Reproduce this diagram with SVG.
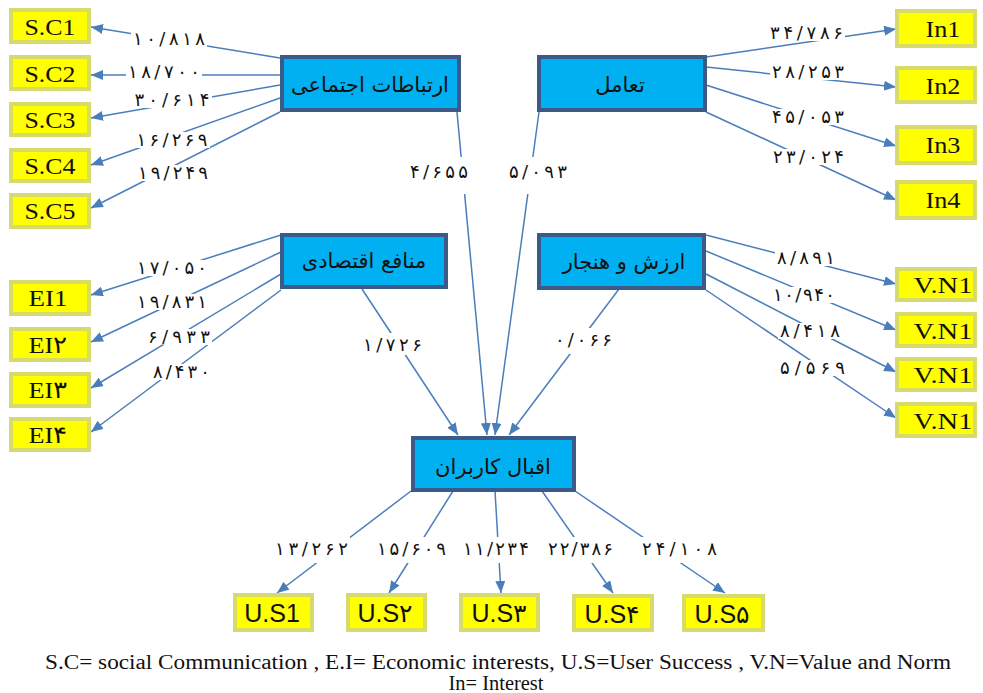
<svg xmlns="http://www.w3.org/2000/svg" width="983" height="693" viewBox="0 0 983 693">
<defs>
<marker id="ah" markerUnits="userSpaceOnUse" markerWidth="12" markerHeight="10" refX="12" refY="5" orient="auto">
<path d="M0,0 L12,5 L0,10 Z" fill="#4A7EBB"/>
</marker>
<style>
.ln{stroke:#4A7EBB;stroke-width:1.5;fill:none;marker-end:url(#ah)}
.bg{fill:#ffffff}
.lb{font-family:"DejaVu Sans",sans-serif;font-size:18px;fill:#111;text-anchor:middle}
.bl{fill:#00B0F0;stroke:#3B5A8A;stroke-width:4}
.bt{font-family:"DejaVu Sans",sans-serif;font-size:21px;fill:#111;text-anchor:middle}
.yl{fill:#FFFF00;stroke:#D6DB6B;stroke-width:4}
.yt{font-size:24px;fill:#111;text-anchor:middle}
.ut{font-family:"Liberation Sans","DejaVu Sans",sans-serif;font-size:25px;fill:#111;text-anchor:middle}
.lg{font-size:20px;fill:#111;text-anchor:middle}
</style>
</defs>
<rect width="983" height="693" fill="#ffffff"/>
<g id="connectors">
<line class="ln" x1="280" y1="58" x2="91" y2="27"/>
<line class="ln" x1="280" y1="75" x2="91" y2="75"/>
<line class="ln" x1="280" y1="85" x2="91" y2="118"/>
<line class="ln" x1="280" y1="98" x2="91" y2="165"/>
<line class="ln" x1="280" y1="112" x2="91" y2="208"/>
<line class="ln" x1="281" y1="235" x2="91" y2="295"/>
<line class="ln" x1="281" y1="252" x2="91" y2="342"/>
<line class="ln" x1="281" y1="274" x2="91" y2="388"/>
<line class="ln" x1="281" y1="290" x2="91" y2="432"/>
<line class="ln" x1="706" y1="57" x2="896" y2="29"/>
<line class="ln" x1="706" y1="67" x2="896" y2="87"/>
<line class="ln" x1="706" y1="85" x2="896" y2="146"/>
<line class="ln" x1="706" y1="112" x2="896" y2="200"/>
<line class="ln" x1="706" y1="235" x2="896" y2="284"/>
<line class="ln" x1="706" y1="251" x2="896" y2="330"/>
<line class="ln" x1="706" y1="274" x2="896" y2="372"/>
<line class="ln" x1="706" y1="290" x2="896" y2="418"/>
<line class="ln" x1="457" y1="112" x2="487" y2="435"/>
<line class="ln" x1="539" y1="112" x2="495" y2="435"/>
<line class="ln" x1="362" y1="289" x2="458" y2="435"/>
<line class="ln" x1="619" y1="289" x2="509" y2="435"/>
<line class="ln" x1="411" y1="491" x2="277" y2="593"/>
<line class="ln" x1="453" y1="491" x2="389" y2="593"/>
<line class="ln" x1="495" y1="491" x2="501" y2="593"/>
<line class="ln" x1="542" y1="491" x2="613" y2="593"/>
<line class="ln" x1="575" y1="491" x2="725" y2="593"/>
<!-- label backgrounds -->
<rect class="bg" x="131" y="31" width="76" height="16"/>
<rect class="bg" x="126" y="64" width="76" height="16"/>
<rect class="bg" x="133" y="92" width="79" height="16"/>
<rect class="bg" x="135" y="132" width="75" height="16"/>
<rect class="bg" x="136" y="165" width="74" height="16"/>
<rect class="bg" x="135" y="260" width="74" height="16"/>
<rect class="bg" x="135" y="294" width="74" height="16"/>
<rect class="bg" x="146" y="329" width="66" height="16"/>
<rect class="bg" x="151" y="364" width="61" height="16"/>
<rect class="bg" x="768" y="25" width="77" height="16"/>
<rect class="bg" x="770" y="64" width="76" height="16"/>
<rect class="bg" x="770" y="109" width="76" height="16"/>
<rect class="bg" x="771" y="149" width="75" height="16"/>
<rect class="bg" x="775" y="250" width="62" height="16"/>
<rect class="bg" x="771" y="287" width="66" height="16"/>
<rect class="bg" x="778" y="323" width="64" height="16"/>
<rect class="bg" x="778" y="360" width="69" height="16"/>
<rect class="bg" x="408" y="157" width="62" height="37"/>
<rect class="bg" x="507" y="157" width="62" height="37"/>
<rect class="bg" x="361" y="333" width="63" height="22"/>
<rect class="bg" x="553" y="328" width="61" height="26"/>
<rect class="bg" x="273" y="537" width="77" height="26"/>
<rect class="bg" x="375" y="537" width="73" height="26"/>
<rect class="bg" x="461" y="537" width="70" height="26"/>
<rect class="bg" x="546" y="537" width="69" height="26"/>
<rect class="bg" x="640" y="537" width="79" height="26"/>
<!-- labels -->
<text class="lb" x="169" y="45" textLength="72" lengthAdjust="spacing">۱۰/۸۱۸</text>
<text class="lb" x="164" y="78" textLength="72" lengthAdjust="spacing">۱۸/۷۰۰</text>
<text class="lb" x="172" y="106" textLength="75" lengthAdjust="spacing">۳۰/۶۱۴</text>
<text class="lb" x="172" y="146" textLength="71" lengthAdjust="spacing">۱۶/۲۶۹</text>
<text class="lb" x="173" y="179" textLength="70" lengthAdjust="spacing">۱۹/۲۴۹</text>
<text class="lb" x="172" y="274" textLength="70" lengthAdjust="spacing">۱۷/۰۵۰</text>
<text class="lb" x="172" y="308" textLength="70" lengthAdjust="spacing">۱۹/۸۳۱</text>
<text class="lb" x="179" y="343" textLength="62" lengthAdjust="spacing">۶/۹۳۳</text>
<text class="lb" x="181.5" y="378" textLength="57" lengthAdjust="spacing">۸/۴۳۰</text>
<text class="lb" x="806.5" y="39" textLength="73" lengthAdjust="spacing">۳۴/۷۸۶</text>
<text class="lb" x="808" y="78" textLength="72" lengthAdjust="spacing">۲۸/۲۵۳</text>
<text class="lb" x="808" y="123" textLength="72" lengthAdjust="spacing">۴۵/۰۵۳</text>
<text class="lb" x="808.5" y="163" textLength="71" lengthAdjust="spacing">۲۳/۰۲۴</text>
<text class="lb" x="806" y="264" textLength="58" lengthAdjust="spacing">۸/۸۹۱</text>
<text class="lb" x="804" y="301" textLength="62" lengthAdjust="spacing">۱۰/۹۴۰</text>
<text class="lb" x="810" y="337" textLength="60" lengthAdjust="spacing">۸/۴۱۸</text>
<text class="lb" x="812.5" y="374" textLength="65" lengthAdjust="spacing">۵/۵۶۹</text>
<text class="lb" x="439" y="178" textLength="58" lengthAdjust="spacing">۴/۶۵۵</text>
<text class="lb" x="538" y="178" textLength="58" lengthAdjust="spacing">۵/۰۹۳</text>
<text class="lb" x="392.5" y="351" textLength="59" lengthAdjust="spacing">۱/۷۲۶</text>
<text class="lb" x="583.5" y="346" textLength="57" lengthAdjust="spacing">۰/۰۶۶</text>
<text class="lb" x="311.5" y="555" textLength="73" lengthAdjust="spacing">۱۳/۲۶۲</text>
<text class="lb" x="411.5" y="555" textLength="69" lengthAdjust="spacing">۱۵/۶۰۹</text>
<text class="lb" x="496" y="555" textLength="66" lengthAdjust="spacing">۱۱/۲۳۴</text>
<text class="lb" x="580.5" y="555" textLength="65" lengthAdjust="spacing">۲۲/۳۸۶</text>
<text class="lb" x="679.5" y="555" textLength="75" lengthAdjust="spacing">۲۴/۱۰۸</text>
</g>
<g id="social"><rect class="bl" x="282" y="57" width="177" height="53"/><text class="bt" x="370" y="92">ارتباطات اجتماعی</text></g>
<g id="interaction"><rect class="bl" x="539" y="57" width="166" height="53"/><text class="bt" x="620" y="92">تعامل</text></g>
<g id="economic"><rect class="bl" x="282" y="235" width="164" height="52"/><text class="bt" x="364" y="268">منافع اقتصادی</text></g>
<g id="value"><rect class="bl" x="539" y="235" width="165" height="53"/><text class="bt" x="624" y="269">ارزش و هنجار</text></g>
<g id="users"><rect class="bl" x="413" y="438" width="161" height="52"/><text class="bt" x="493" y="474">اقبال کاربران</text></g>
<g font-family="'Liberation Serif', serif">
<g id="sc1"><rect class="yl" x="11" y="10" width="78" height="32"/><text class="yt" x="50" y="35" textLength="51" lengthAdjust="spacingAndGlyphs">S.C1</text></g>
<g id="sc2"><rect class="yl" x="11" y="57" width="78" height="32"/><text class="yt" x="50" y="82" textLength="51" lengthAdjust="spacingAndGlyphs">S.C2</text></g>
<g id="sc3"><rect class="yl" x="11" y="104" width="78" height="31"/><text class="yt" x="50" y="128" textLength="51" lengthAdjust="spacingAndGlyphs">S.C3</text></g>
<g id="sc4"><rect class="yl" x="11" y="150" width="78" height="31"/><text class="yt" x="50" y="174" textLength="51" lengthAdjust="spacingAndGlyphs">S.C4</text></g>
<g id="sc5"><rect class="yl" x="11" y="195" width="78" height="32"/><text class="yt" x="50" y="219" textLength="51" lengthAdjust="spacingAndGlyphs">S.C5</text></g>
<g id="ei1"><rect class="yl" x="11" y="282" width="78" height="32"/><text class="yt" x="48" y="306" textLength="39" lengthAdjust="spacingAndGlyphs">EI1</text></g>
<g id="ei2"><rect class="yl" x="11" y="329" width="78" height="31"/><text class="yt" x="48" y="353" textLength="39" lengthAdjust="spacingAndGlyphs">EI۲</text></g>
<g id="ei3"><rect class="yl" x="11" y="374" width="78" height="32"/><text class="yt" x="48" y="398" textLength="39" lengthAdjust="spacingAndGlyphs">EI۳</text></g>
<g id="ei4"><rect class="yl" x="11" y="419" width="78" height="31"/><text class="yt" x="48" y="443" textLength="39" lengthAdjust="spacingAndGlyphs">EI۴</text></g>
<g id="in1"><rect class="yl" x="897" y="11" width="78" height="35"/><text class="yt" x="943" y="37" textLength="35" lengthAdjust="spacingAndGlyphs">In1</text></g>
<g id="in2"><rect class="yl" x="897" y="68" width="78" height="34"/><text class="yt" x="943" y="94" textLength="35" lengthAdjust="spacingAndGlyphs">In2</text></g>
<g id="in3"><rect class="yl" x="897" y="127" width="78" height="36"/><text class="yt" x="943" y="153" textLength="35" lengthAdjust="spacingAndGlyphs">In3</text></g>
<g id="in4"><rect class="yl" x="897" y="182" width="78" height="36"/><text class="yt" x="943" y="208" textLength="35" lengthAdjust="spacingAndGlyphs">In4</text></g>
<g id="vn1"><rect class="yl" x="897" y="269" width="78" height="31"/><text class="yt" x="943" y="293" textLength="59" lengthAdjust="spacingAndGlyphs">V.N1</text></g>
<g id="vn2"><rect class="yl" x="897" y="314" width="78" height="32"/><text class="yt" x="943" y="339" textLength="59" lengthAdjust="spacingAndGlyphs">V.N1</text></g>
<g id="vn3"><rect class="yl" x="897" y="359" width="78" height="31"/><text class="yt" x="943" y="383" textLength="59" lengthAdjust="spacingAndGlyphs">V.N1</text></g>
<g id="vn4"><rect class="yl" x="897" y="404" width="78" height="32"/><text class="yt" x="943" y="429" textLength="59" lengthAdjust="spacingAndGlyphs">V.N1</text></g>
<g id="legend">
<text class="lg" x="498" y="669" textLength="906" lengthAdjust="spacingAndGlyphs">S.C= social Communication , E.I= Economic interests,  U.S=User  Success , V.N=Value  and Norm</text>
<text class="lg" x="496" y="690" textLength="95" lengthAdjust="spacingAndGlyphs">In= Interest</text>
</g>
</g>
<g id="us1"><rect class="yl" x="235" y="595" width="77" height="35"/><text class="ut" x="272" y="622">U.S1</text></g>
<g id="us2"><rect class="yl" x="348" y="595" width="77" height="35"/><text class="ut" x="385" y="622">U.S۲</text></g>
<g id="us3"><rect class="yl" x="461" y="595" width="77" height="35"/><text class="ut" x="499" y="622">U.S۳</text></g>
<g id="us4"><rect class="yl" x="574" y="596" width="78" height="34"/><text class="ut" x="612" y="623">U.S۴</text></g>
<g id="us5"><rect class="yl" x="684" y="596" width="79" height="34"/><text class="ut" x="722" y="623">U.S۵</text></g>
</svg>
